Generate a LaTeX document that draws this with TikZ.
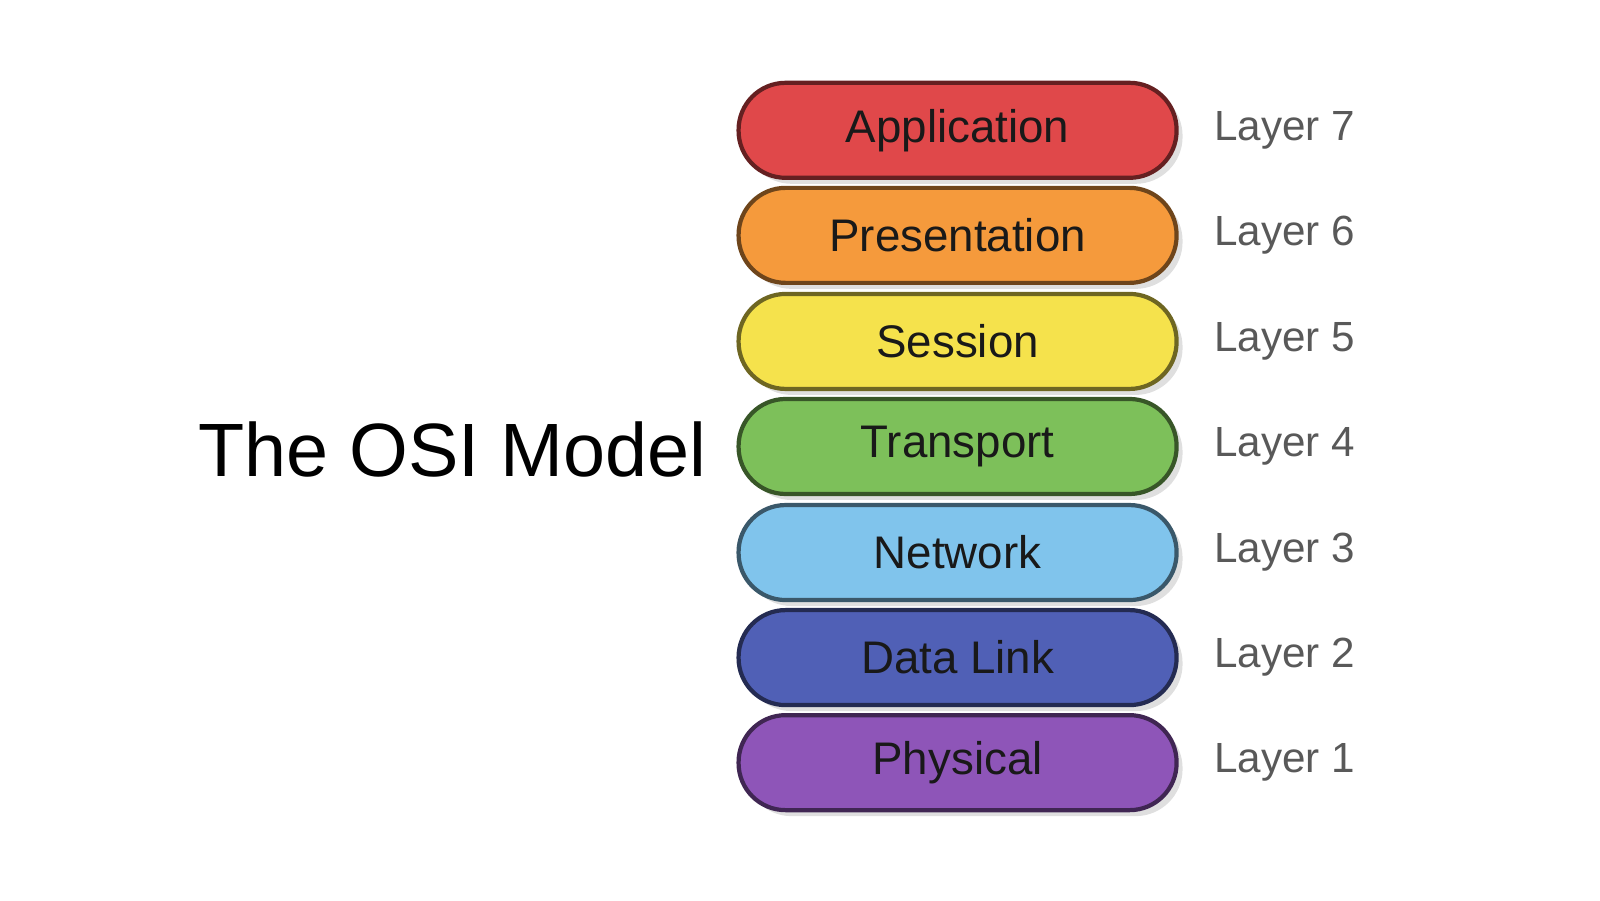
\documentclass[tikz,border=0pt]{standalone}
\usepackage{fontspec}
\setmainfont{Liberation Sans}
\usetikzlibrary{shadows}
\begin{document}
\begin{tikzpicture}[x=0.0101cm,y=-0.0101cm,
 pill/.style={draw=#1!45!black, fill=#1, line width=1.2pt, rounded corners=0.47cm, minimum width=4.38cm, minimum height=0.95cm, font=\fontsize{13pt}{15pt}\selectfont, text=black!90, drop shadow={shadow xshift=0.06cm, shadow yshift=-0.06cm, opacity=0.25}},
 lay/.style={anchor=west, text=black!65, font=\fontsize{12pt}{14pt}\selectfont}]
\useasboundingbox (0,0) rectangle (1584,891);
\definecolor{c7}{HTML}{E0484A}
\definecolor{c6}{HTML}{F59A3C}
\definecolor{c5}{HTML}{F5E24C}
\definecolor{c4}{HTML}{7DC05A}
\definecolor{c3}{HTML}{80C4EC}
\definecolor{c2}{HTML}{5060B6}
\definecolor{c1}{HTML}{8E55B8}
\node[pill=c7] (p7) at (948,129) {Application};
\node[pill=c6] (p6) at (948,233) {Presentation};
\node[pill=c5] (p5) at (948,338) {Session};
\node[pill=c4] (p4) at (948,442) {Transport};
\node[pill=c3] (p3) at (948,547) {Network};
\node[pill=c2] (p2) at (948,651) {Data Link};
\node[pill=c1] (p1) at (948,755) {Physical};
\node[lay] (l7) at (1190,129) {Layer 7};
\node[lay] (l6) at (1190,233) {Layer 6};
\node[lay] (l5) at (1190,338) {Layer 5};
\node[lay] (l4) at (1190,442) {Layer 4};
\node[lay] (l3) at (1190,547) {Layer 3};
\node[lay] (l2) at (1190,651) {Layer 2};
\node[lay] (l1) at (1190,755) {Layer 1};
\node[font=\fontsize{21.5pt}{26pt}\selectfont, text=black] (t) at (448,445) {The OSI Model};
\end{tikzpicture}
\end{document}
